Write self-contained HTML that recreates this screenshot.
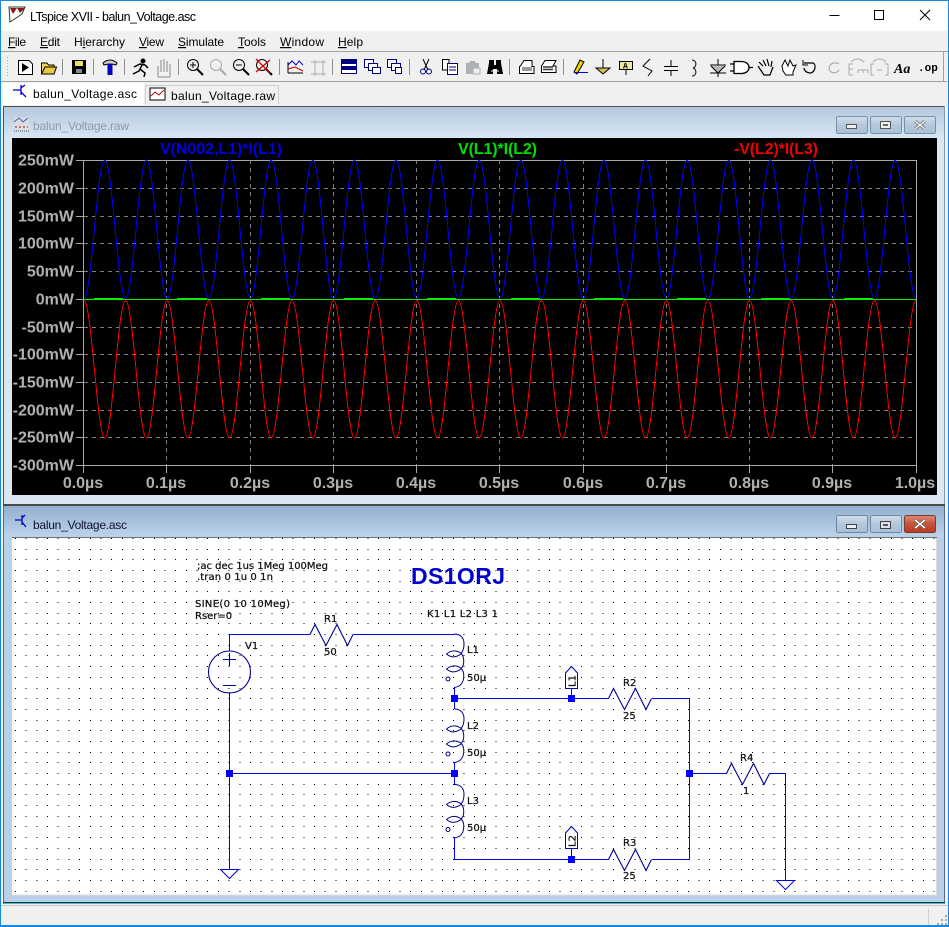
<!DOCTYPE html>
<html><head><meta charset="utf-8"><title>LTspice XVII - balun_Voltage.asc</title>
<style>
html,body{margin:0;padding:0;background:#f0f0f0;overflow:hidden}
svg{display:block}
.ui{font-family:"Liberation Sans",sans-serif;font-size:12px;fill:#000}
.pl{font-family:"Liberation Sans",sans-serif;font-size:16px;font-weight:bold;fill:#b0b0b0}
.tr{font-family:"Liberation Sans",sans-serif;font-size:16px;font-weight:bold}
.sc{font-family:"DejaVu Sans",sans-serif;font-size:10px;fill:#111;stroke:#111;stroke-width:.25}
.c{shape-rendering:crispEdges}
</style></head><body>
<svg width="949" height="927" viewBox="0 0 949 927" xmlns="http://www.w3.org/2000/svg">
<defs>
<linearGradient id="g1" x1="0" y1="0" x2="0" y2="1"><stop offset="0" stop-color="#b4c8dc"/><stop offset="1" stop-color="#d8e6f3"/></linearGradient>
<linearGradient id="g2" x1="0" y1="0" x2="0" y2="1"><stop offset="0" stop-color="#94b0cf"/><stop offset="1" stop-color="#bcd3ea"/></linearGradient>
<linearGradient id="btn" x1="0" y1="0" x2="0" y2="1"><stop offset="0" stop-color="#d2deea"/><stop offset=".5" stop-color="#b4c8dc"/><stop offset="1" stop-color="#a8c0d8"/></linearGradient>
<linearGradient id="btnr" x1="0" y1="0" x2="0" y2="1"><stop offset="0" stop-color="#dd8c7c"/><stop offset=".5" stop-color="#c6523a"/><stop offset="1" stop-color="#b83c22"/></linearGradient>
<g id="res"><path d="M0 0L5 -10L16 11L27 -10L37.500 11L43 0" fill="none" stroke="#000090" stroke-width="1.1"/></g>
<g id="ind" fill="none" stroke="#000080" stroke-width="1">
<path d="M0 0C6 0 9.500 4 9.500 9.500C9.500 14 8.500 17.500 6.500 19.500"/>
<path d="M-8 20Q-1 14 7 19.500Q-1 26 -8 20Z"/>
<path d="M7 20C10 23 10 31 7 34"/>
<path d="M-8 35Q-1 29 7 34.500Q-1 41 -8 35Z"/>
<path d="M7 35C10 38 9.500 44 8.500 47C7 51 4 53 0 53.500"/>
<circle cx="-6.500" cy="45" r="2"/>
</g>
<g id="gnd"><path d="M-9 0H9L0 9Z" fill="#fff" stroke="#0000e0" stroke-width="1"/></g>
<g id="node"><rect x="-3.500" y="-3.500" width="7" height="7" fill="#0000ff"/></g>
</defs>

<!-- app frame -->
<rect width="949" height="927" fill="#f0f0f0"/>
<rect width="949" height="31" fill="#fff"/>
<rect x="0" y="0" width="949" height="1" fill="#1c86d9"/>
<rect x="0" y="0" width="1" height="927" fill="#1c86d9"/>
<rect x="948" y="0" width="1" height="927" fill="#1c86d9"/>
<rect x="0" y="925" width="949" height="2" fill="#1c86d9"/>

<!-- app icon -->
<path d="M9 7H25L22 14L10 22Z" fill="#fff" stroke="#333"/>
<path d="M10 8H17L13 14ZM17 8H25L20 13Z" fill="#8b1a1a"/>
<text class="ui" x="30" y="21" textLength="166" style="font-size:12.500px">LTspice XVII - balun_Voltage.asc</text>
<path d="M829.500 15.500H839.500" stroke="#000" class="c"/>
<rect x="874.500" y="10.500" width="9" height="9" fill="none" stroke="#000" class="c"/>
<path d="M920 10L930 20M930 10L920 20" stroke="#000"/>

<!-- menu -->
<text class="ui" x="8" y="46" textLength="18"><tspan text-decoration="underline">F</tspan>ile</text>
<text class="ui" x="40" y="46" textLength="20"><tspan text-decoration="underline">E</tspan>dit</text>
<text class="ui" x="74" y="46" textLength="51">H<tspan text-decoration="underline">i</tspan>erarchy</text>
<text class="ui" x="139" y="46" textLength="25"><tspan text-decoration="underline">V</tspan>iew</text>
<text class="ui" x="178" y="46" textLength="46"><tspan text-decoration="underline">S</tspan>imulate</text>
<text class="ui" x="238" y="46" textLength="28"><tspan text-decoration="underline">T</tspan>ools</text>
<text class="ui" x="280" y="46" textLength="44"><tspan text-decoration="underline">W</tspan>indow</text>
<text class="ui" x="338" y="46" textLength="25"><tspan text-decoration="underline">H</tspan>elp</text>
<rect x="1" y="51" width="947" height="1" fill="#a0a0a0"/>
<rect x="1" y="81" width="946" height="1" fill="#a0a0a0"/>
<rect x="943" y="52" width="1" height="29" fill="#a0a0a0"/>

<!-- toolbar separators -->
<path class="c" d="M62.500 59V75M93.500 59V75M124.500 59V75M178.500 59V75M279.500 59V75M332.500 59V75M409.500 59V75M509.500 59V75M563.500 59V75" stroke="#909090"/>
<path d="M7.500 57V77" stroke="#aaa" stroke-dasharray="1 2"/>

<!-- toolbar icons -->
<g fill="none" stroke="#000">
<path d="M18.500 60.500H29L32.500 64V74.500H18.500Z" fill="#fff"/><path d="M22 63L29 67.500L22 72Z" fill="#000" stroke="none"/>
<path d="M41.500 74V63H47L48.500 65H54V74Z" fill="#f0d060"/><path d="M41.500 74L45 67H56.500L54 74Z" fill="#e8c840"/>
<rect x="72.500" y="60.500" width="13" height="13" fill="#000"/><rect x="75" y="61" width="8" height="5" fill="#e8e060" stroke="none"/><rect x="76" y="69" width="6" height="4" fill="#888" stroke="none"/>
<path d="M103 63Q110 57 117 63L116 65Q110 63 104 65Z" fill="#ccc"/><rect x="107.500" y="64" width="5" height="11" fill="#0000c0" stroke="none"/>
<circle cx="143" cy="61" r="2" fill="#000"/><path d="M134 67L140 64L145 65L148 68M142 65L139 71L133 74M140 69L145 73L144 77" stroke-width="1.500"/>
<path d="M158 77V66M161 72V60M164 72V59M167 72V61M170 77V64M158 77H170" stroke="#aaa" stroke-width="1.500"/>
</g>
<g fill="none" stroke="#000">
<circle cx="193" cy="65" r="5.500"/><path d="M197 69L203 75" stroke-width="2"/><path d="M190 65H196M193 62V68"/>
<circle cx="216" cy="65" r="5.500" stroke="#aaa"/><path d="M220 69L226 75" stroke="#aaa" stroke-width="2"/>
<circle cx="239" cy="65" r="5.500"/><path d="M243 69L249 75" stroke-width="2"/><path d="M236 65H242"/>
<circle cx="262" cy="65" r="5.500"/><path d="M266 69L272 75" stroke-width="2"/><path d="M256 59L270 73M270 60L256 72" stroke="#d00000" stroke-width="1.300"/>
<path d="M288 73V62M288 73H303" /><path d="M288 65L292 61L296 65L299 61L303 65" stroke="#0000c0"/><path d="M288 69L295 67L303 71" stroke="#c00000"/>
<path d="M311 74H326M311 62H326M315 60V76M323 60V76" stroke="#aaa"/>
</g>
<g fill="#fff" stroke="#000080">
<rect x="341.500" y="59.500" width="15" height="14"/><rect x="341.500" y="59.500" width="15" height="4" fill="#000080"/><rect x="341.500" y="66.500" width="15" height="3" fill="#000080"/>
<rect x="364.500" y="59.500" width="9" height="8"/><rect x="368.500" y="63.500" width="9" height="7"/><rect x="372.500" y="67.500" width="8" height="6"/>
<rect x="387.500" y="59.500" width="9" height="8"/><rect x="391.500" y="63.500" width="9" height="7"/><rect x="395.500" y="67.500" width="6" height="6"/>
</g>
<g fill="none" stroke="#000">
<path d="M423 59L428 70M429 59L424 70" stroke="#000"/><circle cx="423" cy="71.500" r="2.500" stroke="#000080"/><circle cx="429" cy="71.500" r="2.500" stroke="#000080"/>
<path d="M442.500 59.500H449V70H442.500Z" fill="#fff"/><path d="M447.500 63.500H457.500V74.500H447.500Z" fill="#fff" stroke="#000080"/><path d="M449 67H456M449 70H456" stroke="#000080"/>
</g>
<path d="M466 63h3l1-2h5l1 2h3v11h-13z" fill="#aab0b6"/><rect x="473" y="68" width="7" height="6" fill="#eee" stroke="#aab0b6"/>
<path d="M489 60h5v5h2v-5h5v3l2 11h-6v-5h-4v5h-6l2-11z" fill="#000"/><path d="M491 71h2M497 71h2" stroke="#fff"/>
<g fill="none" stroke="#000">
<path d="M520 66.500L524 60.500H532V66.500H534V73.500H519.500V66.500Z" fill="#fff"/><rect x="522" y="67" width="10" height="4" fill="#999" stroke="none"/>
<path d="M541.500 66L545 60.500H556L553 66H556V72.500H541.500Z" fill="#fff"/><path d="M543 67H553M543 69.500H553" stroke="#333" stroke-width="1.500"/>
<path d="M574 72L580 60L584 62L577 74Z" fill="#f0d000" stroke="#000"/><path d="M574 72.500H588" stroke="#0000e0"/>
<path d="M603 59V68M596 68H610"/><path d="M596 68H610L603 74Z" fill="#d8c060"/>
<rect x="619.500" y="61.500" width="13" height="8" fill="#f0e8a0"/><path d="M626 69.500V75"/>
<text x="623" y="68.500" style="font:bold 8px 'Liberation Mono',monospace;fill:#000;stroke:none">A</text>
<path d="M650 59L643 66L652 71L648 76"/>
<path d="M671 60V66M671 70V76M664 66.500H678M664 70.500H678"/>
<path d="M692 60C697 60 697 67 693 68C697 69 697 76 692 76"/>
<path d="M718 59V65M710 65H726M711 66L718 73L725 66M710 73H726M718 73V77" fill="#bbb"/>
<path d="M734 61.500H741C746 61.500 749 64 749 67.500C749 71 746 73.500 741 73.500H734ZM730 64H734M730 71H734M749 67.500H753" fill="#fff" stroke-width="1.300"/>
<path d="M759 62L763 66M763 60L766 66M767 59L769 66M772 61L771 67M758 66L764 75H770L773 67" stroke-width="1.200"/>
<path d="M782 66L785 60L788 66L790 60L793 66L796 65L793 72V75H786L783 71Z" fill="#fff"/>
<path d="M804 63H813C816 64 816 71 811 73C806 73 804 70 804 68" stroke-width="1.200"/><path d="M803 60V65H808" stroke-width="1"/>
<path d="M839 64C833 60 827 66 830 71C833 74 837 73 839 70" stroke="#aaa" stroke-width="1.200"/>
<path d="M849 75V64H853M849 69H853M849 75H853M858 70H868M858 70V73M863 70V73M868 70V73M851 62C855 58 860 58 864 62" stroke="#aaa"/>
<path d="M871 64H874M871 64V75H874M888 64H885M888 64V75H885M877 70H882M873 62C877 58 882 58 886 62" stroke="#aaa"/>
</g>
<text x="894" y="73" style="font:italic bold 14px 'Liberation Serif',serif;fill:#000">Aa</text>
<text x="918" y="71" style="font:bold 11px 'Liberation Mono',monospace;fill:#000">.op</text>

<!-- tabs -->
<rect x="1" y="82" width="947" height="24" fill="#f0f0f0"/>
<rect x="3" y="83" width="141" height="22" fill="#fff"/>
<path class="c" d="M145.500 104V85.500H278.500V104" fill="none" stroke="#d0d0d0"/>
<path d="M21 85V95M21 90L13 90M21 88L25 85M21 92L26 97" stroke="#0000d0" stroke-width="1.300" fill="none"/>
<text class="ui" x="33" y="98" textLength="104">balun_Voltage.asc</text>
<rect x="150" y="88" width="15" height="12" fill="#fff" stroke="#000"/><path d="M151 96L155 92L159 95L164 90" fill="none" stroke="#c00000"/>
<text class="ui" x="171" y="100" textLength="104">balun_Voltage.raw</text>

<!-- waveform window -->
<rect x="3" y="106" width="942" height="399" fill="#dae7f3"/>
<rect x="3.500" y="107" width="941" height="31" fill="url(#g1)"/>
<path class="c" d="M3.500 505V106.500H944.500" fill="none" stroke="#505050"/>
<path class="c" d="M944.500 106.500V505" fill="none" stroke="#809ab4"/>
<rect x="3" y="504" width="942" height="2" fill="#4a4a4a"/>
<rect x="14" y="117" width="15" height="15" fill="#e0e0e0" opacity=".7"/>
<path d="M14 122L19 118L23 122L28 118" stroke="#5060a0" fill="none"/><path d="M15 127H28" stroke="#c00000" stroke-dasharray="2 2"/><path d="M14 131H29" stroke="#444" stroke-dasharray="1 1"/>
<text class="ui" x="33" y="130" textLength="96" style="fill:#8e9aa6">balun_Voltage.raw</text>
<g class="c">
<rect x="836.500" y="116.500" width="31" height="17" rx="2" fill="url(#btn)" stroke="#7890a8"/>
<rect x="870.500" y="116.500" width="31" height="17" rx="2" fill="url(#btn)" stroke="#7890a8"/>
<rect x="904.500" y="116.500" width="31" height="17" rx="2" fill="url(#btn)" stroke="#7890a8"/>
<rect x="846.500" y="124.500" width="10" height="4" fill="#eee" stroke="#555"/>
<rect x="880.500" y="121.500" width="10" height="7" fill="#eee" stroke="#555"/><rect x="883" y="124" width="5" height="2" fill="#667"/>
</g>
<path d="M915 121L925 129M925 121L915 129" stroke="#666" stroke-width="3"/><path d="M915 121L925 129M925 121L915 129" stroke="#eee" stroke-width="1.500"/>

<!-- plot -->
<rect x="12" y="138" width="925" height="357" fill="#000"/>
<g class="c" fill="none" stroke="#808080" stroke-dasharray="4 4">
<path d="M84 188.500H916M84 216.500H916M84 243.500H916M84 271.500H916M84 327.500H916M84 354.500H916M84 382.500H916M84 410.500H916M84 437.500H916"/>
<path d="M166.500 160V465M250.500 160V465M333.500 160V465M416.500 160V465M499.500 160V465M583.500 160V465M666.500 160V465M749.500 160V465M832.500 160V465"/>
</g>
<rect class="c" x="83.500" y="160.500" width="833" height="305" fill="none" stroke="#a8a8a8"/>
<path class="c" stroke="#a8a8a8" d="M76 160.500H84M76 188.500H84M76 216.500H84M76 243.500H84M76 271.500H84M76 299.500H84M76 327.500H84M76 354.500H84M76 382.500H84M76 410.500H84M76 437.500H84M76 465.500H84M83.500 465V473M166.500 465V473M250.500 465V473M333.500 465V473M416.500 465V473M499.500 465V473M583.500 465V473M666.500 465V473M749.500 465V473M832.500 465V473M916.500 465V473"/>
<g text-anchor="end" class="pl">
<text x="74" y="165.500">250mW</text><text x="74" y="193.500">200mW</text><text x="74" y="221.500">150mW</text><text x="74" y="248.500">100mW</text><text x="74" y="276.500">50mW</text><text x="74" y="304.500">0mW</text><text x="74" y="332.500">-50mW</text><text x="74" y="359.500">-100mW</text><text x="74" y="387.500">-150mW</text><text x="74" y="415.500">-200mW</text><text x="74" y="442.500">-250mW</text><text x="74" y="470.500">-300mW</text>
</g>
<g text-anchor="middle" class="pl">
<text x="83" y="488">0.0µs</text><text x="166" y="488">0.1µs</text><text x="250" y="488">0.2µs</text><text x="333" y="488">0.3µs</text><text x="416" y="488">0.4µs</text><text x="499" y="488">0.5µs</text><text x="583" y="488">0.6µs</text><text x="666" y="488">0.7µs</text><text x="749" y="488">0.8µs</text><text x="832" y="488">0.9µs</text><text x="915" y="488">1.0µs</text>
</g>
<text class="tr" x="160" y="154" textLength="122" fill="#0000e0">V(N002,L1)*I(L1)</text>
<text class="tr" x="458" y="154" textLength="79" fill="#00e000">V(L1)*I(L2)</text>
<text class="tr" x="734" y="154" textLength="84" fill="#f00000">-V(L2)*I(L3)</text>

<path class="c" fill="none" stroke="#0000ff" stroke-width="1" d="M84 298.500c7.580 0 13.220-138.500 20.800-138.500s13.220 138.500 20.800 138.500c7.580 0 13.220-138.500 20.800-138.500s13.220 138.500 20.800 138.500c7.580 0 13.220-138.500 20.800-138.500s13.220 138.500 20.800 138.500c7.580 0 13.220-138.500 20.800-138.500s13.220 138.500 20.800 138.500c7.580 0 13.220-138.500 20.800-138.500s13.220 138.500 20.800 138.500c7.580 0 13.220-138.500 20.800-138.500s13.220 138.500 20.800 138.500c7.580 0 13.220-138.500 20.800-138.500s13.220 138.500 20.800 138.500c7.580 0 13.220-138.500 20.800-138.500s13.220 138.500 20.800 138.500c7.580 0 13.220-138.500 20.800-138.500s13.220 138.500 20.800 138.500c7.580 0 13.220-138.500 20.800-138.500s13.220 138.500 20.800 138.500c7.580 0 13.220-138.500 20.800-138.500s13.220 138.500 20.800 138.500c7.580 0 13.220-138.500 20.800-138.500s13.220 138.500 20.800 138.500c7.580 0 13.220-138.500 20.800-138.500s13.220 138.500 20.800 138.500c7.580 0 13.220-138.500 20.800-138.500s13.220 138.500 20.800 138.500c7.580 0 13.220-138.500 20.800-138.500s13.220 138.500 20.800 138.500c7.580 0 13.220-138.500 20.800-138.500s13.220 138.500 20.800 138.500c7.580 0 13.220-138.500 20.800-138.500s13.220 138.500 20.800 138.500c7.580 0 13.220-138.500 20.800-138.500s13.220 138.500 20.800 138.500c7.580 0 13.220-138.500 20.800-138.500s13.220 138.500 20.800 138.500c7.580 0 13.220-138.500 20.800-138.500s13.220 138.500 20.800 138.500"/>
<path class="c" fill="none" stroke="#ff0000" stroke-width="1" d="M84 300.500c7.580 0 13.220 137.500 20.800 137.500s13.220-137.500 20.800-137.500c7.580 0 13.220 137.500 20.800 137.500s13.220-137.500 20.800-137.500c7.580 0 13.220 137.500 20.800 137.500s13.220-137.500 20.800-137.500c7.580 0 13.220 137.500 20.800 137.500s13.220-137.500 20.800-137.500c7.580 0 13.220 137.500 20.800 137.500s13.220-137.500 20.800-137.500c7.580 0 13.220 137.500 20.800 137.500s13.220-137.500 20.800-137.500c7.580 0 13.220 137.500 20.800 137.500s13.220-137.500 20.800-137.500c7.580 0 13.220 137.500 20.800 137.500s13.220-137.500 20.800-137.500c7.580 0 13.220 137.500 20.800 137.500s13.220-137.500 20.800-137.500c7.580 0 13.220 137.500 20.800 137.500s13.220-137.500 20.800-137.500c7.580 0 13.220 137.500 20.800 137.500s13.220-137.500 20.800-137.500c7.580 0 13.220 137.500 20.800 137.500s13.220-137.500 20.800-137.500c7.580 0 13.220 137.500 20.800 137.500s13.220-137.500 20.800-137.500c7.580 0 13.220 137.500 20.800 137.500s13.220-137.500 20.800-137.500c7.580 0 13.220 137.500 20.800 137.500s13.220-137.500 20.800-137.500c7.580 0 13.220 137.500 20.800 137.500s13.220-137.500 20.800-137.500c7.580 0 13.220 137.500 20.800 137.500s13.220-137.500 20.800-137.500c7.580 0 13.220 137.500 20.800 137.500s13.220-137.500 20.800-137.500c7.580 0 13.220 137.500 20.800 137.500s13.220-137.500 20.800-137.500c7.580 0 13.220 137.500 20.800 137.500s13.220-137.500 20.800-137.500"/>
<path class="c" stroke="#00f000" d="M84 299.500H916M94 298.500H123M177 298.500H207M261 298.500H290M344 298.500H373M427 298.500H456M511 298.500H540M594 298.500H623M677 298.500H706M761 298.500H790M844 298.500H873"/>

<!-- schematic window -->
<rect x="3" y="506" width="942" height="398" fill="#b9d0e8"/>
<rect x="3.500" y="506" width="941" height="31" fill="url(#g2)"/>
<path class="c" d="M3.500 904V506M944.500 506V903" fill="none" stroke="#5a6a7c"/>
<rect x="3" y="902" width="942" height="1" fill="#303030"/>
<rect x="3" y="903" width="942" height="1" fill="#30c0d0"/>
<path d="M22 515V525M22 520L15 520M22 518L25 515M22 522L26 527" stroke="#0000d0" stroke-width="1.300" fill="none"/>
<text class="ui" x="33" y="529" textLength="94" style="fill:#101030">balun_Voltage.asc</text>
<g class="c">
<rect x="836.500" y="515.500" width="31" height="17" rx="2" fill="url(#btn)" stroke="#6f88a4"/>
<rect x="870.500" y="515.500" width="31" height="17" rx="2" fill="url(#btn)" stroke="#6f88a4"/>
<rect x="904.500" y="515.500" width="31" height="17" rx="2" fill="url(#btnr)" stroke="#7a3a30"/>
<rect x="846.500" y="524.500" width="10" height="4" fill="#eee" stroke="#444"/>
<rect x="880.500" y="521.500" width="10" height="7" fill="#dde" stroke="#444"/><rect x="883" y="524" width="5" height="2" fill="#556"/>
</g>
<path d="M915 520L925 528M925 520L915 528" stroke="#555" stroke-width="3"/><path d="M915 520L925 528M925 520L915 528" stroke="#fff" stroke-width="1.500"/>

<!-- canvas -->
<rect x="12" y="537" width="925" height="358" fill="#fff"/>
<rect x="12" y="537" width="925" height="1" fill="#707070"/>
<path class="c" d="M936.500 538V895H12" fill="none" stroke="#dcdcdc"/>
<g class="c" fill="none" stroke="#000" stroke-width="1" stroke-dasharray="1 9.680">
<path d="M15 538.500H936M15 549.500H936M15 559.500H936M15 570.500H936M15 581.500H936M15 591.500H936M15 602.500H936M15 613.500H936M15 623.500H936M15 634.500H936M15 645.500H936M15 655.500H936M15 666.500H936M15 677.500H936M15 688.500H936M15 698.500H936M15 709.500H936M15 720.500H936M15 730.500H936M15 741.500H936M15 752.500H936M15 762.500H936M15 773.500H936M15 784.500H936M15 794.500H936M15 805.500H936M15 816.500H936M15 826.500H936M15 837.500H936M15 848.500H936M15 859.500H936M15 869.500H936M15 880.500H936M15 891.500H936"/>
</g>

<!-- wires -->
<path class="c" fill="none" stroke="#0000ff" d="M229.500 651V634.500H310M353 634.500H455M229.500 692V869M229.500 773.500H454.500M454.500 687V709M454.500 762V785M454.500 837V859.500H609M652 859.500H689.500V698.500H652M609 698.500H454.500M689.500 773.500H727M769 773.500H785.500V880M571.500 688V698.500M571.500 849V859.500"/>

<!-- V1 -->
<g fill="none" stroke="#000090" stroke-width="1.100">
<circle cx="229.500" cy="672" r="21"/>
<path d="M223 659.500H236M229.500 653V666M223 685.500H236"/>
</g>
<!-- resistors -->
<use href="#res" x="310" y="634.500"/>
<use href="#res" x="608.500" y="698.500"/>
<use href="#res" x="608.500" y="859.500"/>
<use href="#res" x="726.500" y="773.500"/>
<!-- inductors -->
<use href="#ind" x="454.500" y="634"/>
<use href="#ind" x="454.500" y="709"/>
<use href="#ind" x="454.500" y="784.500"/>
<!-- grounds -->
<use href="#gnd" x="229.500" y="869.500"/>
<use href="#gnd" x="785.500" y="880.500"/>
<!-- nodes -->
<use href="#node" x="454.500" y="698.500"/>
<use href="#node" x="571.500" y="698.500"/>
<use href="#node" x="454.500" y="773.500"/>
<use href="#node" x="229.500" y="773.500"/>
<use href="#node" x="689.500" y="773.500"/>
<use href="#node" x="571.500" y="859.500"/>
<!-- flags -->
<path d="M565.500 688.500V673L571.500 666.500L577.500 673V688.500Z" fill="#fff" stroke="#0000c0"/>
<path d="M565.500 848.500V833L571.500 826.500L577.500 833V848.500Z" fill="#fff" stroke="#0000c0"/>
<text class="sc" transform="translate(575.500 687) rotate(-90)" style="stroke:#111">L1</text>
<text class="sc" transform="translate(575.500 847) rotate(-90)" style="stroke:#111">L2</text>

<!-- labels -->
<text class="sc" x="197" y="569" textLength="131">;ac dec 1us 1Meg 100Meg</text>
<text class="sc" x="197" y="580" textLength="76">.tran 0 1u 0 1n</text>
<text class="sc" x="195" y="607" textLength="95">SINE(0 10 10Meg)</text>
<text class="sc" x="195" y="619">Rser=0</text>
<text class="sc" x="427" y="617" textLength="71">K1 L1 L2 L3 1</text>
<text class="sc" x="324" y="622">R1</text>
<text class="sc" x="324" y="655">50</text>
<text class="sc" x="245" y="649">V1</text>
<text class="sc" x="467" y="653">L1</text>
<text class="sc" x="467" y="681">50µ</text>
<text class="sc" x="467" y="729">L2</text>
<text class="sc" x="467" y="756">50µ</text>
<text class="sc" x="467" y="804">L3</text>
<text class="sc" x="467" y="831">50µ</text>
<text class="sc" x="623" y="686">R2</text>
<text class="sc" x="623" y="719">25</text>
<text class="sc" x="623" y="846">R3</text>
<text class="sc" x="623" y="879">25</text>
<text class="sc" x="740" y="761">R4</text>
<text class="sc" x="743" y="794">1</text>
<text x="411" y="584" textLength="94" style="font:bold 23px 'Liberation Sans',sans-serif;fill:#0000d0">DS1ORJ</text>

<!-- status -->
<rect x="1" y="905" width="947" height="20" fill="#f0f0f0"/>
<rect x="1" y="905" width="947" height="1" fill="#c8c8c8"/>
<rect x="928" y="909" width="1" height="16" fill="#d0d0d0"/>
<path d="M945 915h2v2h-2zM941 919h2v2h-2zM945 919h2v2h-2zM937 923h2v2h-2zM941 923h2v2h-2zM945 923h2v2h-2z" fill="#aaa"/>
</svg>
</body></html>
